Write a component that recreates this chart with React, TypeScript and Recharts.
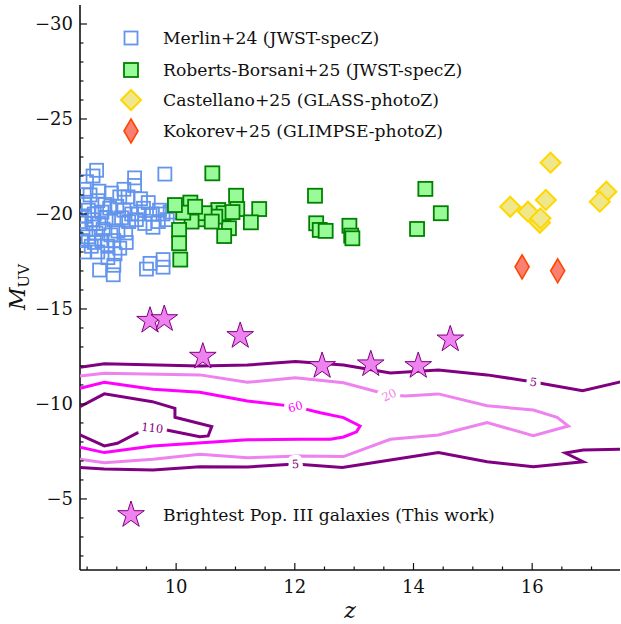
import React from "react";
import { ScatterChart, Scatter, XAxis, YAxis, Legend } from "recharts";

document.body.style.margin = "0";

const W = 621;
const H = 624;
const FONT = "'DejaVu Serif', serif";
const INK = "#111";

// axes
const zDomain = [8.38, 17.48];
const mDomain = [-31, -1.26];
const zMajor = [10, 12, 14, 16];
const zTicks = [8.5, 9, 9.5, 10, 10.5, 11, 11.5, 12, 12.5, 13, 13.5, 14, 14.5, 15, 15.5, 16, 16.5, 17];
const mMajor = [-30, -25, -20, -15, -10, -5];
const mTicks = [
  -30, -29, -28, -27, -26, -25, -24, -23, -22, -21, -20, -19, -18, -17, -16, -15, -14, -13, -12, -11, -10,
  -9, -8, -7, -6, -5, -4, -3, -2,
];

// observed samples [z, M_UV]
const merlin = [
  [8.66, -22.3], [8.6, -22.0], [8.49, -21.7], [8.45, -21.3], [9.3, -21.9], [9.81, -22.1],
  [8.55, -21.0], [8.7, -21.2], [8.91, -21.1], [9.05, -20.9], [9.19, -20.9], [9.53, -20.6],
  [8.68, -20.7], [8.8, -20.5], [8.45, -20.5], [8.52, -20.2], [8.62, -20.0], [8.75, -20.1],
  [8.88, -20.3], [9.0, -20.4], [9.12, -20.2], [9.25, -20.0], [9.36, -20.0], [9.45, -20.3],
  [9.6, -20.0], [9.72, -20.2], [9.78, -20.0], [9.9, -20.1], [8.46, -19.9], [8.58, -19.7],
  [8.7, -19.5], [8.6, -19.5], [8.82, -19.8], [8.95, -19.7], [9.08, -19.8], [9.2, -19.6],
  [9.33, -19.7], [9.47, -19.5], [9.61, -19.3], [9.7, -19.6], [9.85, -19.7], [8.48, -19.2],
  [8.77, -19.2], [9.02, -19.1], [8.65, -19.0], [8.9, -18.9], [9.15, -19.0], [8.52, -18.8],
  [8.62, -18.5], [8.75, -18.6], [8.85, -18.3], [8.57, -18.3], [8.95, -18.6], [9.16, -18.5],
  [9.05, -18.2], [8.45, -18.0], [8.68, -18.0], [8.97, -17.9], [8.85, -17.7], [8.71, -17.05],
  [8.94, -16.8], [8.95, -17.3], [9.5, -17.1], [9.56, -17.4], [9.78, -17.6], [9.78, -17.2],
  [9.3, -21.5], [9.12, -21.3], [9.4, -20.8], [8.4, -19.6], [8.42, -18.6],
];
const robertsBorsani = [
  [10.61, -22.14], [12.34, -20.96], [14.2, -21.32], [14.46, -20.04], [14.06, -19.21],
  [12.36, -19.51], [12.42, -19.16], [12.52, -19.11], [12.92, -19.38], [12.95, -18.86],
  [12.97, -18.72], [11.01, -20.96], [11.4, -20.26], [11.03, -20.26], [11.26, -19.56],
  [10.89, -19.25], [10.81, -18.84], [10.71, -20.21], [10.8, -20.04], [10.66, -19.86],
  [10.42, -19.72], [10.48, -20.04], [10.24, -20.6], [10.26, -19.6], [10.12, -20.07],
  [10.05, -19.16], [10.05, -18.46], [10.07, -17.6], [10.6, -19.6], [10.32, -20.38],
  [9.98, -20.47], [10.95, -20.1],
];
const castellano = [
  [16.31, -22.7], [15.63, -20.38], [15.93, -20.12], [16.23, -20.74],
  [16.13, -19.54], [16.14, -19.77], [17.25, -21.17], [17.14, -20.65],
];
const kokorev = [[15.83, -17.22], [16.43, -17.01]];
const popIII = [
  [9.56, -14.38], [9.8, -14.47], [10.45, -12.49], [11.08, -13.58],
  [12.46, -12.0], [13.28, -12.09], [14.08, -12.0], [14.62, -13.4],
];

// number-density contours
const c5Upper = [
  [8.38, -11.93], [8.79, -12.11], [10.4, -12.0], [11.2, -12.05], [12.01, -12.23], [12.82, -12.05],
  [13.61, -11.63], [14.42, -11.79], [15.24, -11.53], [16.02, -11.16], [16.85, -10.7], [17.5, -11.17],
];
const c5Lower = [
  [17.5, -7.62], [16.86, -7.58], [16.56, -7.42], [16.86, -6.96], [16.02, -6.7], [15.24, -6.96],
  [14.42, -7.44], [13.61, -7.05], [12.8, -6.65], [12.01, -6.84], [11.2, -6.68], [10.4, -6.7],
  [9.61, -6.53], [8.79, -6.58], [8.38, -6.65],
];
const c20 = [
  [8.38, -11.47], [8.79, -11.62], [10.4, -11.53], [11.2, -11.14], [12.01, -11.38], [12.82, -11.12],
  [13.59, -10.47], [13.86, -10.42], [14.42, -10.53], [15.24, -9.91], [16.02, -9.68], [16.42, -9.3],
  [16.61, -8.84], [16.02, -8.33], [15.24, -9.02], [14.42, -8.37], [13.61, -8.14], [12.82, -7.23],
  [12.09, -7.26], [11.2, -7.17], [10.4, -7.35], [9.61, -7.09], [8.79, -6.91], [8.38, -7.09],
];
const c60 = [
  [8.38, -10.83], [8.79, -11.14], [9.61, -10.77], [10.4, -10.62], [11.2, -10.16], [12.01, -9.86],
  [12.43, -9.54], [12.82, -9.28], [13.1, -8.84], [13.04, -8.53], [12.82, -8.26], [12.6, -8.14],
  [12.09, -8.14], [11.2, -8.11], [9.61, -7.79], [8.79, -7.44], [8.38, -7.72],
];
const c110 = [
  [8.38, -9.86], [8.79, -10.53], [9.6, -10.12], [9.98, -9.77], [9.98, -9.3], [10.6, -8.81],
  [10.54, -8.32], [10.4, -8.28], [9.9, -8.59], [9.6, -8.79], [9.34, -8.46], [9.01, -7.93],
  [8.79, -7.79], [8.38, -8.37],
];
const contourLabels = [
  { z: 16.02, m: -11.16, text: "5", color: "#800080", angle: 8 },
  { z: 12.01, m: -6.84, text: "5", color: "#800080", angle: -3 },
  { z: 13.59, m: -10.47, text: "20", color: "#EE82EE", angle: -25 },
  { z: 12.01, m: -9.86, text: "60", color: "#FF00FF", angle: -15 },
  { z: 9.6, m: -8.74, text: "110", color: "#800080", angle: 6 },
];

const pts = (arr: number[][]) => arr.map(([z, m]) => ({ z, m }));

const starPts = (cx: number, cy: number, R: number) =>
  Array.from({ length: 10 }, (_, k) => {
    const a = -Math.PI / 2 + (k * Math.PI) / 5;
    const r = k % 2 ? R * 0.382 : R;
    return `${cx + r * Math.cos(a)},${cy + r * Math.sin(a)}`;
  }).join(" ");

const OpenSquare = (p: any) => (
  <rect x={p.cx - 6.5} y={p.cy - 6.5} width={13} height={13} fill="none" stroke="#6495ED" strokeWidth={1.8} />
);
const GreenSquare = (p: any) => (
  <rect x={p.cx - 7} y={p.cy - 7} width={14} height={14} fill="#98FB98" stroke="#008000" strokeWidth={1.8} />
);
const Diamond = (p: any) => (
  <polygon
    points={`${p.cx},${p.cy - 10} ${p.cx + 10},${p.cy} ${p.cx},${p.cy + 10} ${p.cx - 10},${p.cy}`}
    fill="#F0E68C" stroke="#FFD700" strokeWidth={2}
  />
);
const ThinDiamond = (p: any) => (
  <polygon
    points={`${p.cx},${p.cy - 12} ${p.cx + 7},${p.cy} ${p.cx},${p.cy + 12} ${p.cx - 7},${p.cy}`}
    fill="#FA8072" stroke="#FF4500" strokeWidth={1.6}
  />
);
const Star = (p: any) => (
  <polygon points={starPts(p.cx, p.cy, 14)} fill="#EE82EE" stroke="#800080" strokeWidth={1} />
);
const NoDot = () => <g />;

// inline contour labels; the white halo breaks the line underneath like clabel does
const ContourLabel = (p: any) => (
  <text
    x={p.cx} y={p.cy} dy="0.35em" textAnchor="middle" fontSize={11.5} fontFamily={FONT}
    fill={p.payload.color} stroke="#fff" strokeWidth={9} strokeLinejoin="round"
    style={{ paintOrder: "stroke" }}
    transform={`rotate(${p.payload.angle} ${p.cx} ${p.cy})`}
  >
    {p.payload.text}
  </text>
);

const BottomTick = (p: any) => {
  const v = p.payload.value;
  const major = zMajor.includes(v);
  return (
    <g>
      <line x1={p.x} x2={p.x} y1={p.y} y2={p.y - (major ? 7 : 3.5)} stroke={INK} strokeWidth={1.2} />
      {major && (
        <text x={p.x} y={p.y + 23} textAnchor="middle" fontSize={18} fontFamily={FONT} fill={INK}>
          {v}
        </text>
      )}
    </g>
  );
};
const TopTick = (p: any) => {
  const major = zMajor.includes(p.payload.value);
  return <line x1={p.x} x2={p.x} y1={p.y} y2={p.y + (major ? 7 : 3.5)} stroke={INK} strokeWidth={1.2} />;
};
const LeftTick = (p: any) => {
  const v = p.payload.value;
  const major = mMajor.includes(v);
  return (
    <g>
      <line x1={p.x} x2={p.x + (major ? 7 : 3.5)} y1={p.y} y2={p.y} stroke={INK} strokeWidth={1.2} />
      {major && (
        <text x={p.x - 7} y={p.y} dy="0.36em" textAnchor="end" fontSize={18} fontFamily={FONT} fill={INK}>
          {"\u2212" + Math.abs(v)}
        </text>
      )}
    </g>
  );
};
const RightTick = (p: any) => {
  const major = mMajor.includes(p.payload.value);
  return <line x1={p.x} x2={p.x - (major ? 7 : 3.5)} y1={p.y} y2={p.y} stroke={INK} strokeWidth={1.2} />;
};

const XLabel = (p: any) => {
  const vb = p.viewBox;
  return (
    <text x={vb.x + vb.width / 2} y={vb.y + 48} textAnchor="middle" fontSize={22} fontStyle="italic" fontFamily={FONT} fill={INK}>
      z
    </text>
  );
};
const YLabel = () => (
  <text x={25} y={287} transform="rotate(-90 25 287)" textAnchor="middle" fontSize={22} fontFamily={FONT} fill={INK}>
    <tspan fontStyle="italic">M</tspan>
    <tspan fontSize={15} dy={4}>UV</tspan>
  </text>
);

const legendRows = [
  { label: "Merlin+24 (JWST-specZ)", y: 38.3, Marker: OpenSquare },
  { label: "Roberts-Borsani+25 (JWST-specZ)", y: 69.5, Marker: GreenSquare },
  { label: "Castellano+25 (GLASS-photoZ)", y: 100, Marker: Diamond },
  { label: "Kokorev+25 (GLIMPSE-photoZ)", y: 130.7, Marker: ThinDiamond },
  { label: "Brightest Pop. III galaxies (This work)", y: 514.5, Marker: Star },
];

const renderLegend = () => (
  <div style={{ position: "relative", width: W, height: H, pointerEvents: "none", fontFamily: FONT }}>
    {legendRows.map((r) => (
      <div
        key={r.label}
        style={{ position: "absolute", left: 116, top: r.y - 15, height: 30, display: "flex", alignItems: "center" }}
      >
        <svg width={30} height={30} style={{ display: "block" }}>
          <r.Marker cx={15} cy={15} />
        </svg>
        <span style={{ marginLeft: 17, fontSize: 17.2, color: INK, whiteSpace: "nowrap" }}>{r.label}</span>
      </div>
    ))}
  </div>
);

export default function App() {
  const contours = [
    { data: c5Upper, color: "#800080" },
    { data: c5Lower, color: "#800080" },
    { data: c20, color: "#EE82EE" },
    { data: c60, color: "#FF00FF" },
    { data: c110, color: "#800080" },
  ];
  return (
    <div style={{ position: "relative", width: W, height: H, background: "#fff" }}>
      <ScatterChart width={W} height={H} margin={{ top: 5, right: 1, bottom: 0, left: 10 }}>
        <XAxis
          type="number" dataKey="z" domain={zDomain} allowDataOverflow ticks={zTicks} interval={0}
          height={54} tickSize={0} tickMargin={0} tickLine={false} tick={BottomTick}
          axisLine={{ stroke: INK, strokeWidth: 1.6 }} label={XLabel}
        />
        <XAxis
          xAxisId="top" orientation="top" type="number" dataKey="z" domain={zDomain} allowDataOverflow
          ticks={zTicks} interval={0} height={0} tickSize={0} tickMargin={0} tickLine={false} tick={TopTick}
          axisLine={{ stroke: INK, strokeWidth: 1.6 }}
        />
        <YAxis
          type="number" dataKey="m" domain={mDomain} reversed allowDataOverflow ticks={mTicks} interval={0}
          width={70} tickSize={0} tickMargin={0} tickLine={false} tick={LeftTick}
          axisLine={{ stroke: INK, strokeWidth: 1.6 }} label={YLabel}
        />
        <YAxis
          yAxisId="right" orientation="right" type="number" dataKey="m" domain={mDomain} reversed allowDataOverflow
          ticks={mTicks} interval={0} width={0} tickSize={0} tickMargin={0} tickLine={false} tick={RightTick}
          axisLine={{ stroke: INK, strokeWidth: 1.6 }}
        />
        <Legend
          content={renderLegend} layout="horizontal" verticalAlign="middle" align="center"
          wrapperStyle={{ left: 0, top: 0, width: W, height: H }}
        />
        {contours.map((c, i) => (
          <Scatter
            key={i} data={pts(c.data)} line={{ stroke: c.color, strokeWidth: 3 }} lineType="joint"
            shape={NoDot} isAnimationActive={false} legendType="none"
          />
        ))}
        <Scatter data={contourLabels} shape={ContourLabel} isAnimationActive={false} legendType="none" />
        <Scatter data={pts(merlin)} shape={OpenSquare} isAnimationActive={false} />
        <Scatter data={pts(robertsBorsani)} shape={GreenSquare} isAnimationActive={false} />
        <Scatter data={pts(castellano)} shape={Diamond} isAnimationActive={false} />
        <Scatter data={pts(kokorev)} shape={ThinDiamond} isAnimationActive={false} />
        <Scatter data={pts(popIII)} shape={Star} isAnimationActive={false} />
      </ScatterChart>
    </div>
  );
}
